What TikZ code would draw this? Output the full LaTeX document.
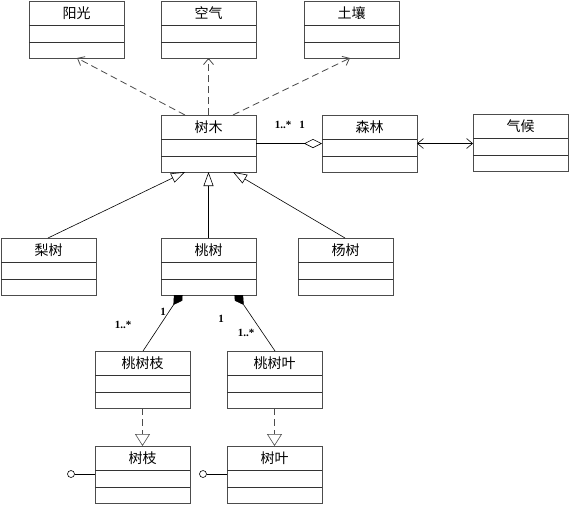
\documentclass[tikz,border=0pt]{standalone}
\usepackage{fontspec}
\newfontfamily\cjk{Noto Sans CJK SC}
\newfontfamily\labfont{Liberation Serif}
\usetikzlibrary{arrows.meta}
\tikzset{
  clsbox/.style={draw=black!70, line width=0.8pt, minimum width=95pt, minimum height=57pt, anchor=north west, inner sep=0pt, outer sep=0pt},
  clstitle/.style={font=\cjk\fontsize{14}{16}\selectfont, inner sep=0pt},
  divline/.style={draw=black!80, line width=0.8pt},
  mult/.style={font=\labfont\bfseries\fontsize{11}{12}\selectfont, inner sep=0pt},
  dep/.style={draw=black!70, line width=0.8pt, dash pattern=on 7pt off 4pt, -{Straight Barb[length=6pt,width=10pt]}},
  gen/.style={draw=black, line width=0.6pt, -{Triangle[open,length=14pt,width=10pt]}},
  real/.style={draw=black!70, line width=0.8pt, dash pattern=on 7pt off 4pt, -{Triangle[open,length=12pt,width=15pt,line width=0.6pt]}},
  aggr/.style={draw=black, line width=0.6pt, -{Diamond[open,length=18pt,width=9pt]}},
  comp/.style={draw=black, line width=0.6pt, shorten >=-5pt, -{Diamond[length=17pt,width=10pt]}},
  assoc/.style={draw=black, line width=0.6pt, {Straight Barb[length=6pt,width=10pt]}-{Straight Barb[length=6pt,width=10pt]}},
  lolli/.style={circle, draw=black, line width=0.6pt, minimum size=7pt, inner sep=0pt, fill=white}
}
\newcommand\umlclass[4]{%
  \node[clsbox] (#1) at (#2,#3) {};
  \draw[divline] ([yshift=-24pt]#1.north west) -- ([yshift=-24pt]#1.north east);
  \draw[divline] ([yshift=-41pt]#1.north west) -- ([yshift=-41pt]#1.north east);
  \node[clstitle] (#1-t) at ([yshift=-12.5pt]#1.north) {#4};}
\begin{document}
\begin{tikzpicture}[x=1pt,y=-1pt]
\useasboundingbox[fill=white] (0,0) rectangle (569,504);
% classes
\umlclass{sun}{29}{1}{阳光}
\umlclass{air}{161}{1}{空气}
\umlclass{soil}{304}{1}{土壤}
\umlclass{tree}{161}{115}{树木}
\umlclass{forest}{322}{115}{森林}
\umlclass{climate}{473}{114}{气候}
\umlclass{pear}{1}{238}{梨树}
\umlclass{peach}{161}{238}{桃树}
\umlclass{poplar}{298}{238}{杨树}
\umlclass{pbranch}{95}{351}{桃树枝}
\umlclass{pleaf}{227}{351}{桃树叶}
\umlclass{branch}{95}{446}{树枝}
\umlclass{leaf}{227}{446}{树叶}
% dependencies
\draw[dep] ([xshift=24pt]tree.north west) -- ([xshift=48pt]sun.south west);
\draw[dep] (tree.north) -- (air.south);
\draw[dep] ([xshift=72pt]tree.north west) -- ([xshift=46pt]soil.south west);
% generalizations
\draw[gen] ([xshift=47pt]pear.north west) -- ([xshift=24pt]tree.south west);
\draw[gen] (peach.north) -- (tree.south);
\draw[gen] ([xshift=47pt]poplar.north west) -- ([xshift=72pt]tree.south west);
% aggregation and association
\draw[aggr] (tree.east) -- (forest.west);
\node[mult] (m1) at (283,125) {1..*};
\node[mult] (m2) at (302,125) {1};
\draw[assoc] (forest.east) -- (climate.west |- forest.east);
% compositions
\begin{scope}
\clip (0,295.5) rectangle (569,351);
\draw[comp] ([xshift=48pt]pbranch.north west) -- ([xshift=19pt]peach.south west);
\draw[comp] ([xshift=48pt]pleaf.north west) -- ([xshift=76pt]peach.south west);
\end{scope}
\node[mult] (m3) at (163,312) {1};
\node[mult] (m4) at (123,325) {1..*};
\node[mult] (m5) at (221,319) {1};
\node[mult] (m6) at (246,333) {1..*};
% realizations
\draw[real] (pbranch.south) -- (branch.north);
\draw[real] (pleaf.south) -- (leaf.north);
% lollipops
\node[lolli] (l1) at (71,474) {};
\node[lolli] (l2) at (203,474) {};
\draw[line width=0.6pt] (l1.east) -- (branch.west |- l1);
\draw[line width=0.6pt] (l2.east) -- (leaf.west |- l2);
\end{tikzpicture}
\end{document}
